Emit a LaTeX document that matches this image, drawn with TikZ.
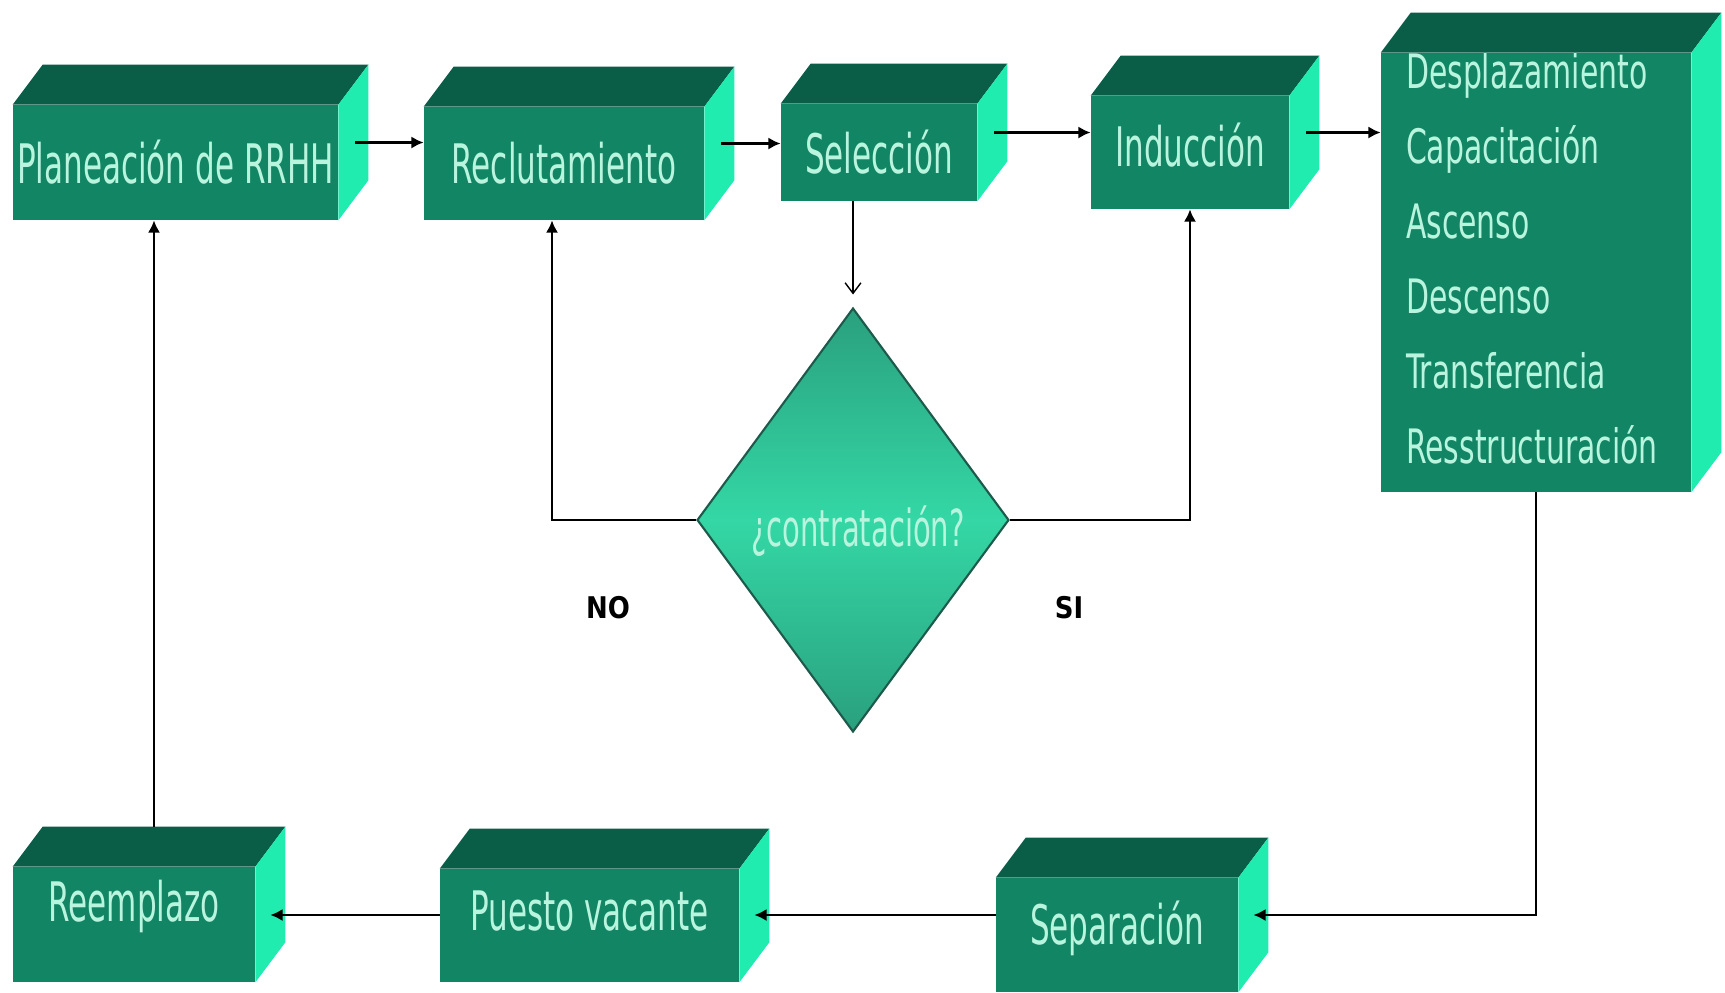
\documentclass[tikz,border=0pt]{standalone}
\usepackage{fontspec}
\usetikzlibrary{shapes.geometric,arrows.meta,calc}
\newfontfamily\boxfont[FakeStretch=0.57]{DejaVu Sans}
\newfontfamily\listfont[FakeStretch=0.63]{DejaVu Sans}
\newfontfamily\tagfont[FakeStretch=0.87]{DejaVu Sans}
\definecolor{frontc}{RGB}{18,134,100}
\definecolor{topc}{RGB}{10,94,72}
\definecolor{sidec}{RGB}{32,236,176}
\definecolor{textc}{RGB}{185,245,222}
\definecolor{decedge}{RGB}{42,160,126}
\definecolor{decmid}{RGB}{52,215,165}
\definecolor{decline}{RGB}{30,90,75}
\tikzset{
	face/.style={fill=frontc, text=textc, inner sep=0pt, font=\boxfont\fontsize{31}{42.7}\selectfont},
	dec/.style={diamond, draw=decline, line width=1.2pt, top color=decedge, bottom color=decedge, middle color=decmid, minimum width=6.24cm, minimum height=8.48cm, inner sep=0pt},
	dectext/.style={text=textc, font=\boxfont\fontsize{29}{35}\selectfont},
	tag/.style={font=\tagfont\bfseries\fontsize{17}{20}\selectfont},
	conn/.style={line width=1.6pt, -{Latex[length=7pt,width=7pt]}},
	oconn/.style={line width=0.8pt, shorten >=0.25cm, -{Straight Barb[length=6pt,width=9pt]}}
}
\begin{document}
\begin{tikzpicture}[x=0.02cm, y=-0.02cm]
	\useasboundingbox (0,0) rectangle (1725,992);
	\node[face, minimum width=6.5cm, minimum height=2.3cm] (plan) at (175.5,162.5) {Planeación de RRHH};
	\node[face, minimum width=5.6cm, minimum height=2.26cm] (recl) at (564,163.5) {Reclutamiento};
	\node[face, minimum width=3.92cm, minimum height=1.94cm] (sel) at (879,152.5) {Selección};
	\node[face, minimum width=3.96cm, minimum height=2.26cm, text depth=0.3cm] (ind) at (1190,152.5) {Inducción};
	\node[face, font=\listfont\fontsize{27}{42.7}\selectfont, minimum height=8.78cm, text width=5.2cm, inner xsep=0.5cm, align=left, text height=0.15cm] (mov) at (1536,272.5) {Desplazamiento\\Capacitación\\Ascenso\\Descenso\\Transferencia\\Resstructuración};
	\node[face, minimum width=4.84cm, minimum height=2.3cm, text depth=0.94cm] (reem) at (134,924.5) {Reemplazo};
	\node[face, minimum width=5.98cm, minimum height=2.26cm, text depth=0.59cm] (vac) at (589.5,925.5) {Puesto vacante};
	\node[face, minimum width=4.84cm, minimum height=2.28cm, text depth=0.48cm] (sep) at (1117,935) {Separación};
	\foreach \n in {plan,recl,sel,ind,mov,reem,vac,sep} {
		\fill[topc] (\n.north west) -- ++(30,-40) -- ($(\n.north east)+(30,-40)$) -- (\n.north east) -- cycle;
		\fill[sidec] (\n.north east) -- ++(30,-40) -- ($(\n.south east)+(30,-40)$) -- (\n.south east) -- cycle;
	}
	\node[dec] (hire) at (853,520) {};
	\node[dectext] (hiretext) at (858,531) {¿contratación?};
	\node[tag] (no) at (608,608) {NO};
	\node[tag] (si) at (1069,608) {SI};
	\foreach \a/\b in {plan/recl, recl/sel, sel/ind, ind/mov}
		\draw[conn] ($(\a.east)+(17,-20)$) coordinate (s) -- (\b.west |- s);
	\draw[oconn] (sel.south -| hire.north) -- (hire.north);
	\draw[conn] (hire.west) -| ($(recl.south)+(-12,0)$);
	\draw[conn] (hire.east) -| (ind.south);
	\coordinate (bus) at (0,915);
	\draw[conn] (mov.south) |- ($(sep.east |- bus)+(15,0)$);
	\draw[conn] (sep.west |- bus) -- ($(vac.east |- bus)+(15,0)$);
	\draw[conn] (vac.west |- bus) -- ($(reem.east |- bus)+(15,0)$);
	\draw[conn] ($(reem.north)+(20,-40)$) coordinate (u) -- (u |- plan.south);
\end{tikzpicture}
\end{document}
